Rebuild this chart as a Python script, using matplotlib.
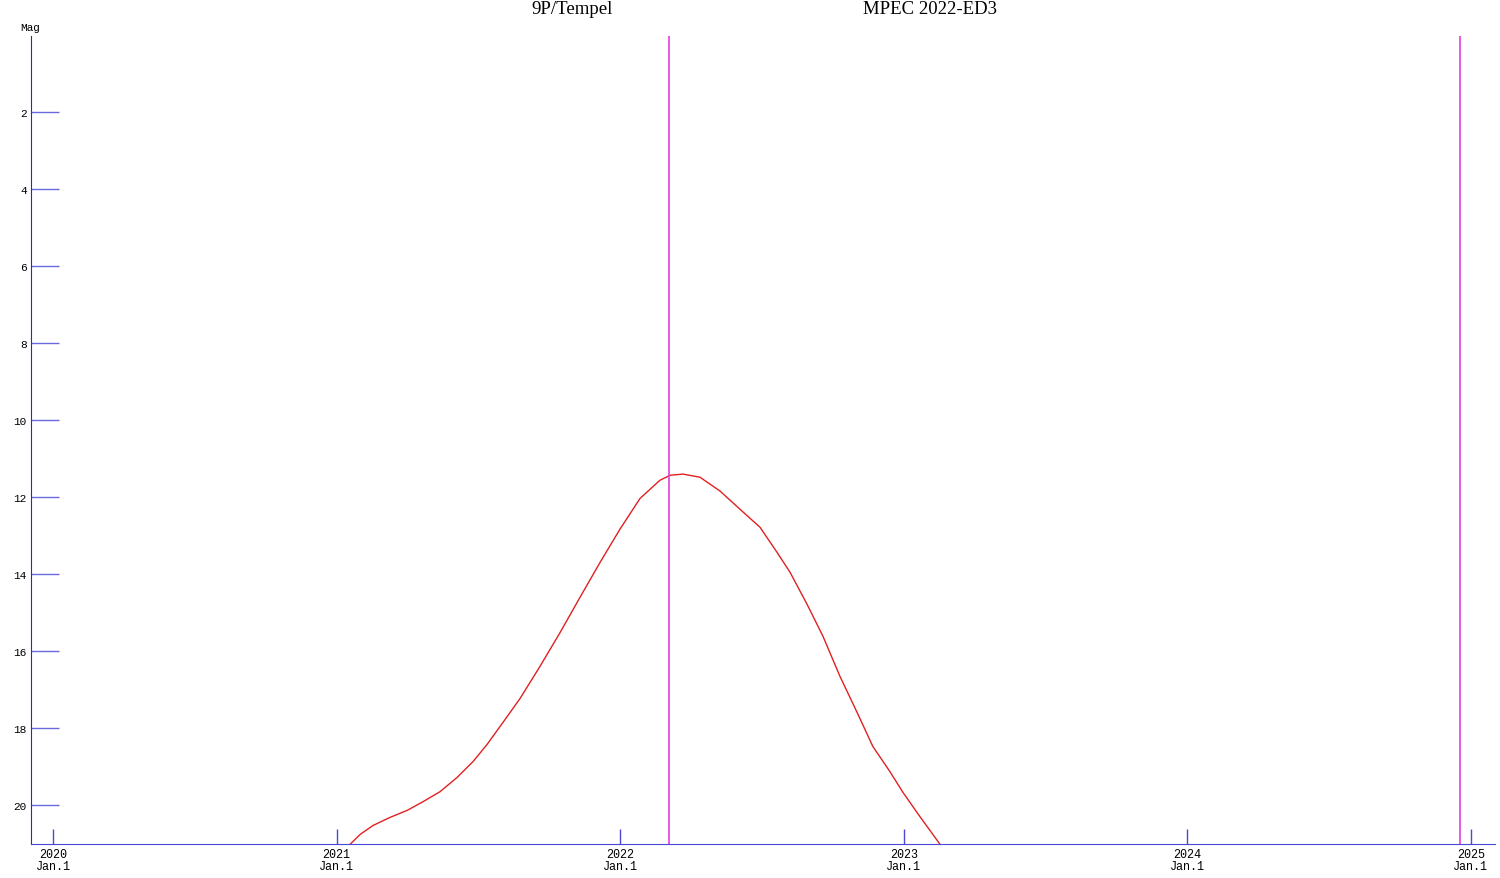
import matplotlib
matplotlib.use('Agg')
import matplotlib.pyplot as plt

# predicted magnitude of 9P/Tempel, decimal year vs magnitude
years = [2021.047, 2021.083, 2021.128, 2021.188, 2021.248, 2021.305, 2021.365,
         2021.425, 2021.481, 2021.530, 2021.587, 2021.647, 2021.717, 2021.788,
         2021.858, 2021.929, 2021.999, 2022.070, 2022.140, 2022.176, 2022.221,
         2022.281, 2022.352, 2022.422, 2022.493, 2022.553, 2022.599, 2022.659,
         2022.715, 2022.775, 2022.835, 2022.891, 2022.951, 2022.997, 2023.057,
         2023.128]
mags = [21.01, 20.75, 20.52, 20.31, 20.13, 19.90, 19.64,
        19.27, 18.86, 18.42, 17.84, 17.22, 16.39, 15.51,
        14.60, 13.69, 12.83, 12.03, 11.56, 11.43, 11.40,
        11.48, 11.84, 12.31, 12.78, 13.43, 13.95, 14.78,
        15.61, 16.65, 17.58, 18.47, 19.12, 19.66, 20.29,
        21.01]

# vertical markers (perihelion, current date)
markers = [2022.173, 2024.961]

year_ticks = [2020, 2021, 2022, 2023, 2024, 2025]
year_labels = [str(y) + '\nJan.1' for y in year_ticks]
mag_ticks = [2, 4, 6, 8, 10, 12, 14, 16, 18, 20]

fig = plt.figure(figsize=(15, 8.79), dpi=100)
ax = fig.add_axes([31/1500, 34/879, 1464/1500, 808/879])

ax.plot(years, mags, color='#e02020', lw=1)
for m in markers:
    ax.axvline(m, color='#e040e0', lw=1.2)

ax.set_xlim(2019.922, 2025.085)
ax.set_ylim(21.0, 0.03)

ax.spines['top'].set_visible(False)
ax.spines['right'].set_visible(False)
ax.spines['left'].set_color('#2a2ab8')
ax.spines['bottom'].set_color('#4848d8')

mono = 'Liberation Mono'
ax.set_yticks(mag_ticks)
ax.set_yticklabels([str(m) for m in mag_ticks], fontsize=8, family=mono)
ax.set_xticks(year_ticks)
ax.set_xticklabels(year_labels, fontsize=8.5, family=mono, linespacing=0.95)
ax.tick_params(axis='y', direction='in', length=20, width=1, color='#6a6ae0', pad=3)
ax.tick_params(axis='x', direction='in', length=11, width=1, color='#4a4ad0', pad=3)

fig.text(30/1500, 1 - 28/879, 'Mag', fontsize=8, family=mono, ha='center', va='center')
fig.text(572/1500, 1 - 10/879, '9P/Tempel', fontsize=13.5, family='Liberation Serif',
         ha='center', va='center')
fig.text(930/1500, 1 - 10/879, 'MPEC 2022-ED3', fontsize=13.5, family='Liberation Serif',
         ha='center', va='center')

fig.savefig('out.png', dpi=100)
